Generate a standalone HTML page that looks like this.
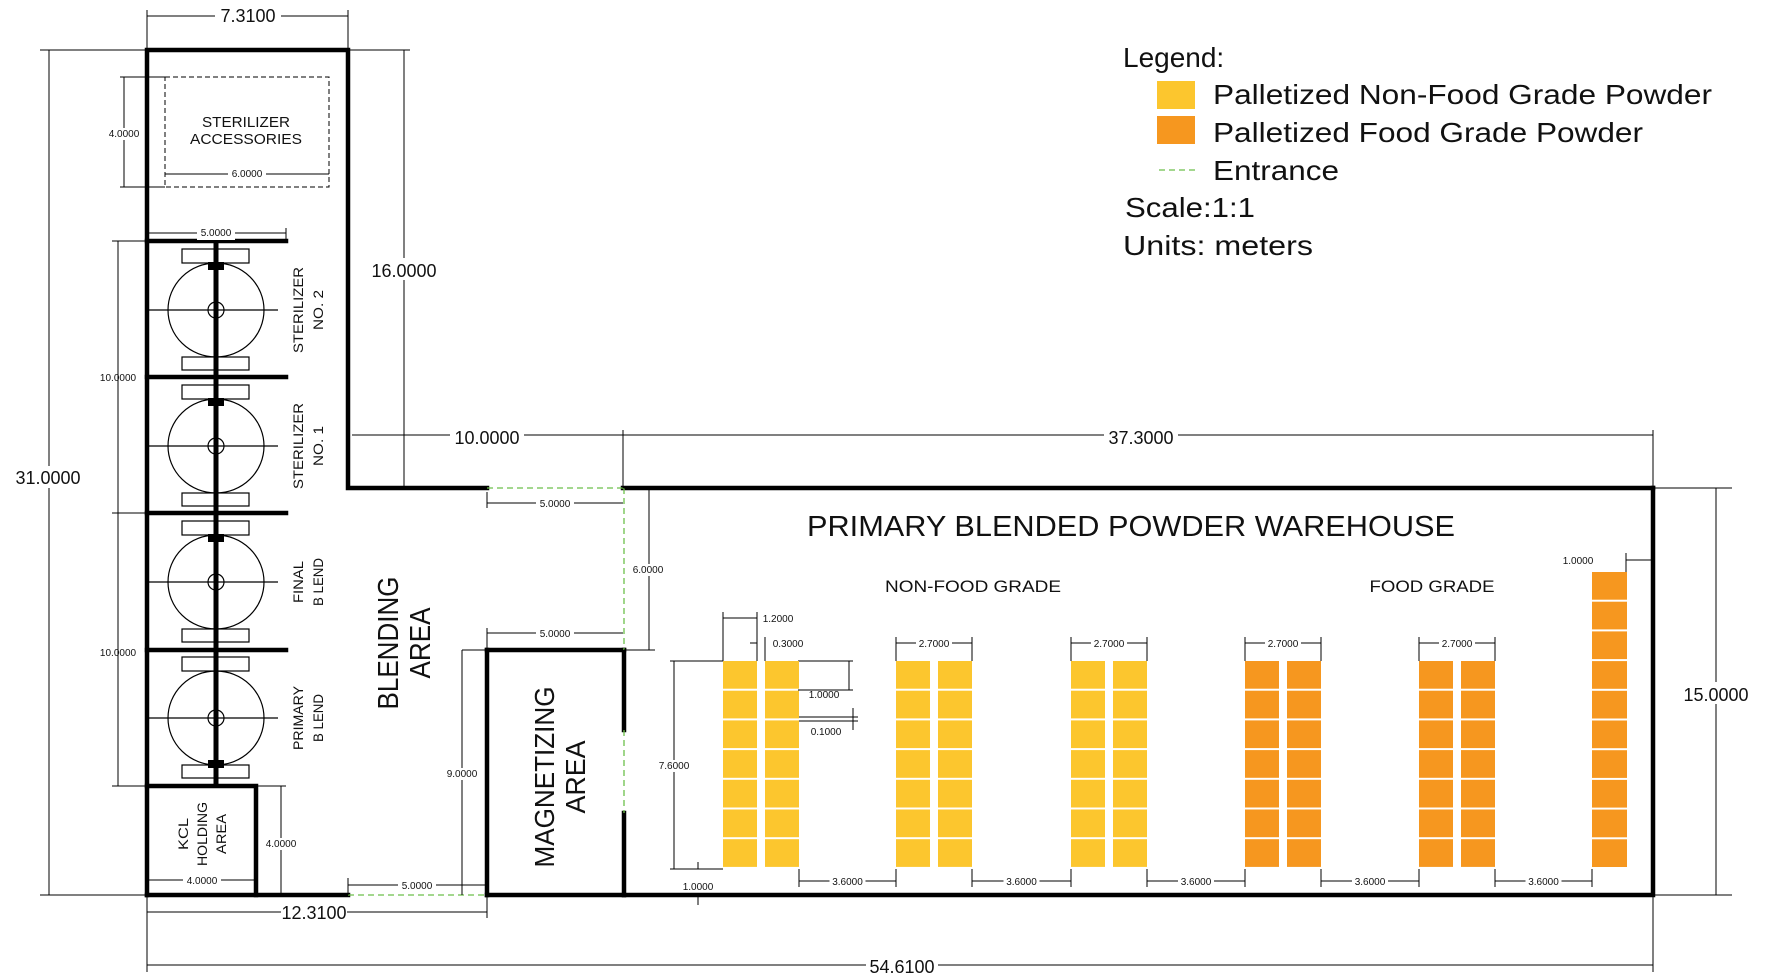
<!DOCTYPE html>
<html><head><meta charset="utf-8"><style>
html,body{margin:0;padding:0;background:#fff}
svg{display:block}
text{font-family:"Liberation Sans",Arial,sans-serif;fill:#111}
.d{font-size:10px}
.m{font-size:18px}
</style></head><body>
<svg width="1766" height="973" viewBox="0 0 1766 973" xmlns="http://www.w3.org/2000/svg">
<g stroke="#000" fill="none">
<!-- walls -->
<g stroke-width="4.5" stroke-linecap="square">
<polyline points="147,895 147,50 348,50 348,488 487,488"/>
<line x1="623" y1="488" x2="1653" y2="488"/>
<polyline points="1653,488 1653,895 624,895"/>
<line x1="487" y1="895" x2="487" y2="650"/>
<line x1="487" y1="650" x2="624" y2="650"/>
<line x1="624" y1="650" x2="624" y2="730"/>
<line x1="624" y1="813" x2="624" y2="895"/>
<line x1="487" y1="895" x2="624" y2="895"/>
<line x1="147" y1="895" x2="348" y2="895"/>
<line x1="147" y1="241" x2="286" y2="241"/>
<line x1="147" y1="377" x2="286" y2="377"/>
<line x1="147" y1="513" x2="286" y2="513"/>
<line x1="147" y1="650" x2="286" y2="650"/>
<polyline points="147,786 256,786 256,895"/>
</g>
<!-- entrances -->
<g stroke="#6cbf4a" stroke-width="1.3" stroke-dasharray="6,4">
<line x1="487" y1="488" x2="623" y2="488"/>
<line x1="624" y1="488" x2="624" y2="650"/>
<line x1="624" y1="730" x2="624" y2="813"/>
<line x1="348" y1="895" x2="487" y2="895"/>
<line x1="1159" y1="170" x2="1196" y2="170"/>
</g>
<!-- accessories dashed -->
<rect x="165" y="77" width="164" height="110" stroke-width="1" stroke-dasharray="5,3"/>
<!-- sterilizer units -->
<line x1="216" y1="241" x2="216" y2="786" stroke-width="5"/>
<g stroke-width="1.2">
<ellipse cx="216" cy="310" rx="48" ry="47"/><ellipse cx="216" cy="446" rx="48" ry="47"/>
<ellipse cx="216" cy="582" rx="48" ry="47"/><ellipse cx="216" cy="718" rx="48" ry="47"/>
<line x1="147" y1="310" x2="278" y2="310"/><line x1="147" y1="446" x2="278" y2="446"/>
<line x1="147" y1="582" x2="278" y2="582"/><line x1="147" y1="718" x2="278" y2="718"/>
<circle cx="216" cy="310" r="8"/><circle cx="216" cy="446" r="8"/><circle cx="216" cy="582" r="8"/><circle cx="216" cy="718" r="8"/>
<rect x="182" y="249" width="67" height="14"/><rect x="182" y="357" width="67" height="13"/>
<rect x="182" y="385" width="67" height="14"/><rect x="182" y="493" width="67" height="13"/>
<rect x="182" y="521" width="67" height="14"/><rect x="182" y="629" width="67" height="13"/>
<rect x="182" y="657" width="67" height="14"/><rect x="182" y="765" width="67" height="13"/>
</g>
<g fill="#000" stroke="none">
<rect x="208" y="262" width="16" height="8"/><rect x="208" y="398" width="16" height="8"/><rect x="208" y="534" width="16" height="8"/><rect x="208" y="760" width="16" height="8"/>
</g>
<!-- dimension lines -->
<g stroke-width="1">
<line x1="147" y1="16" x2="348" y2="16"/><line x1="147" y1="10" x2="147" y2="48"/><line x1="348" y1="10" x2="348" y2="48"/>
<line x1="40" y1="50" x2="147" y2="50"/><line x1="40" y1="895" x2="147" y2="895"/><line x1="49" y1="50" x2="49" y2="895"/>
<line x1="348" y1="50" x2="410" y2="50"/><line x1="404" y1="50" x2="404" y2="488"/>
<line x1="120" y1="77" x2="165" y2="77"/><line x1="120" y1="187" x2="165" y2="187"/><line x1="124" y1="77" x2="124" y2="187"/>
<line x1="165" y1="174" x2="329" y2="174"/>
<line x1="147" y1="233" x2="286" y2="233"/><line x1="286" y1="228" x2="286" y2="240"/>
<line x1="112" y1="241" x2="147" y2="241"/><line x1="112" y1="513" x2="147" y2="513"/><line x1="112" y1="786" x2="147" y2="786"/>
<line x1="118" y1="241" x2="118" y2="786"/>
<line x1="147" y1="880" x2="256" y2="880"/>
<line x1="256" y1="786" x2="286" y2="786"/><line x1="281" y1="786" x2="281" y2="895"/>
<line x1="352" y1="435" x2="1653" y2="435"/><line x1="623" y1="430" x2="623" y2="488"/><line x1="1653" y1="430" x2="1653" y2="488"/>
<line x1="487" y1="503" x2="623" y2="503"/><line x1="487" y1="492" x2="487" y2="508"/>
<line x1="487" y1="633" x2="623" y2="633"/><line x1="487" y1="628" x2="487" y2="648"/>
<line x1="624" y1="488" x2="655" y2="488"/><line x1="624" y1="650" x2="655" y2="650"/><line x1="649" y1="488" x2="649" y2="650"/>
<line x1="462" y1="650" x2="487" y2="650"/><line x1="462" y1="650" x2="462" y2="895"/>
<line x1="348" y1="885" x2="487" y2="885"/><line x1="348" y1="878" x2="348" y2="895"/>
<line x1="147" y1="912" x2="487" y2="912"/><line x1="147" y1="895" x2="147" y2="972"/><line x1="487" y1="895" x2="487" y2="918"/>
<line x1="147" y1="965" x2="1653" y2="965"/><line x1="1653" y1="895" x2="1653" y2="972"/>
<line x1="1653" y1="488" x2="1732" y2="488"/><line x1="1653" y1="895" x2="1732" y2="895"/><line x1="1716" y1="488" x2="1716" y2="895"/>
<!-- pallet dims -->
<line x1="723" y1="618" x2="757" y2="618"/><line x1="723" y1="612" x2="723" y2="661"/><line x1="757" y1="612" x2="757" y2="661"/>
<line x1="750" y1="643" x2="757" y2="643"/><line x1="765" y1="637" x2="765" y2="661"/>
<line x1="670" y1="661" x2="723" y2="661"/><line x1="670" y1="869" x2="723" y2="869"/><line x1="674" y1="661" x2="674" y2="869"/>
<line x1="698" y1="862" x2="698" y2="869"/><line x1="698" y1="895" x2="698" y2="905"/>
<line x1="798" y1="661" x2="853" y2="661"/><line x1="798" y1="690" x2="853" y2="690"/><line x1="849" y1="661" x2="849" y2="690"/>
<line x1="798" y1="717" x2="858" y2="717"/><line x1="798" y1="721" x2="858" y2="721"/><line x1="853" y1="708" x2="853" y2="730"/>
<line x1="1626" y1="560" x2="1653" y2="560"/><line x1="1626" y1="553" x2="1626" y2="572"/>
</g>
</g>
<g stroke="#000" stroke-width="1" fill="none" id="pdims"></g>
<!-- pallets -->
<g id="pal"></g>
<!-- legend -->
<rect x="1157" y="81" width="38" height="28" fill="#FCC62E"/>
<rect x="1157" y="116" width="38" height="28" fill="#F6971F"/>
<text x="1123" y="67" font-size="28">Legend:</text>
<text x="1213" y="104" font-size="28" textLength="499" lengthAdjust="spacingAndGlyphs">Palletized Non-Food Grade Powder</text>
<text x="1213" y="142" font-size="28" textLength="430" lengthAdjust="spacingAndGlyphs">Palletized Food Grade Powder</text>
<text x="1213" y="180" font-size="28" textLength="126" lengthAdjust="spacingAndGlyphs">Entrance</text>
<text x="1125" y="217" font-size="28" textLength="130" lengthAdjust="spacingAndGlyphs">Scale:1:1</text>
<text x="1123" y="255" font-size="28" textLength="190" lengthAdjust="spacingAndGlyphs">Units: meters</text>
<!-- labels -->
<g text-anchor="middle">
<text x="1131" y="536" font-size="29" textLength="648" lengthAdjust="spacingAndGlyphs">PRIMARY BLENDED POWDER WAREHOUSE</text>
<text x="973" y="592" font-size="17" textLength="176" lengthAdjust="spacingAndGlyphs">NON-FOOD GRADE</text>
<text x="1432" y="592" font-size="17" textLength="125" lengthAdjust="spacingAndGlyphs">FOOD GRADE</text>
<text x="246" y="127" font-size="15" textLength="88" lengthAdjust="spacingAndGlyphs">STERILIZER</text>
<text x="246" y="144" font-size="15" textLength="112" lengthAdjust="spacingAndGlyphs">ACCESSORIES</text>
<g font-size="14">
<text transform="translate(303,310) rotate(-90)" textLength="86" lengthAdjust="spacingAndGlyphs">STERILIZER</text>
<text transform="translate(323,310) rotate(-90)" textLength="40" lengthAdjust="spacingAndGlyphs">NO. 2</text>
<text transform="translate(303,446) rotate(-90)" textLength="86" lengthAdjust="spacingAndGlyphs">STERILIZER</text>
<text transform="translate(323,446) rotate(-90)" textLength="40" lengthAdjust="spacingAndGlyphs">NO. 1</text>
<text transform="translate(303,582) rotate(-90)" textLength="42" lengthAdjust="spacingAndGlyphs">FINAL</text>
<text transform="translate(323,582) rotate(-90)" textLength="48" lengthAdjust="spacingAndGlyphs">B LEND</text>
<text transform="translate(303,718) rotate(-90)" textLength="64" lengthAdjust="spacingAndGlyphs">PRIMARY</text>
<text transform="translate(323,718) rotate(-90)" textLength="48" lengthAdjust="spacingAndGlyphs">B LEND</text>
<text transform="translate(188,834) rotate(-90)" textLength="32" lengthAdjust="spacingAndGlyphs">KCL</text>
<text transform="translate(207,834) rotate(-90)" textLength="64" lengthAdjust="spacingAndGlyphs">HOLDING</text>
<text transform="translate(226,834) rotate(-90)" textLength="40" lengthAdjust="spacingAndGlyphs">AREA</text>
</g>
<text transform="translate(398,643) rotate(-90)" font-size="29" textLength="133" lengthAdjust="spacingAndGlyphs">BLENDING</text>
<text transform="translate(430,643) rotate(-90)" font-size="29" textLength="71" lengthAdjust="spacingAndGlyphs">AREA</text>
<text transform="translate(554,777) rotate(-90)" font-size="28" textLength="181" lengthAdjust="spacingAndGlyphs">MAGNETIZING</text>
<text transform="translate(585,777) rotate(-90)" font-size="28" textLength="73" lengthAdjust="spacingAndGlyphs">AREA</text>
</g>
<!-- dimension texts with white bg -->
<g text-anchor="middle">
<g fill="#fff">
<rect x="215" y="6" width="66" height="20"/><rect x="10" y="466" width="76" height="22"/><rect x="366" y="258" width="76" height="22"/>
<rect x="450" y="425" width="74" height="22"/><rect x="1104" y="425" width="74" height="22"/><rect x="281" y="901" width="66" height="22"/>
<rect x="866" y="955" width="72" height="20"/><rect x="1682" y="682" width="70" height="22"/>
</g>
<text x="248" y="22" class="m">7.3100</text>
<text x="48" y="484" class="m">31.0000</text>
<text x="404" y="277" class="m">16.0000</text>
<text x="487" y="444" class="m">10.0000</text>
<text x="1141" y="444" class="m">37.3000</text>
<text x="314" y="919" class="m">12.3100</text>
<text x="902" y="973" class="m">54.6100</text>
<text x="1716" y="701" class="m">15.0000</text>
<g class="d">
<rect x="106" y="128" width="36" height="12" fill="#fff"/><text x="124" y="137">4.0000</text>
<rect x="228" y="168" width="38" height="12" fill="#fff"/><text x="247" y="177">6.0000</text>
<rect x="197" y="228" width="38" height="12" fill="#fff"/><text x="216" y="236">5.0000</text>
<text x="118" y="381">10.0000</text><text x="118" y="656">10.0000</text>
<rect x="183" y="875" width="38" height="12" fill="#fff"/><text x="202" y="884">4.0000</text>
<rect x="263" y="838" width="36" height="12" fill="#fff"/><text x="281" y="847">4.0000</text>
<rect x="536" y="498" width="38" height="12" fill="#fff"/><text x="555" y="507">5.0000</text>
<rect x="536" y="628" width="38" height="12" fill="#fff"/><text x="555" y="637">5.0000</text>
<rect x="630" y="564" width="36" height="12" fill="#fff"/><text x="648" y="573">6.0000</text>
<rect x="444" y="768" width="36" height="12" fill="#fff"/><text x="462" y="777">9.0000</text>
<rect x="398" y="880" width="38" height="12" fill="#fff"/><text x="417" y="889">5.0000</text>
<rect x="656" y="760" width="36" height="12" fill="#fff"/><text x="674" y="769">7.6000</text>
<text x="698" y="890">1.0000</text>
<text x="778" y="622">1.2000</text>
<text x="788" y="647">0.3000</text>
<text x="824" y="698">1.0000</text>
<text x="826" y="735">0.1000</text>
<text x="1578" y="564">1.0000</text>
</g>
</g>
<script>
var g=document.getElementById('pal'),d=document.getElementById('pdims'),ns='http://www.w3.org/2000/svg';
function r(x,y,w,h,c){var e=document.createElementNS(ns,'rect');e.setAttribute('x',x);e.setAttribute('y',y);e.setAttribute('width',w);e.setAttribute('height',h);e.setAttribute('fill',c);g.appendChild(e);}
function l(a,b,c2,e2){var e=document.createElementNS(ns,'line');e.setAttribute('x1',a);e.setAttribute('y1',b);e.setAttribute('x2',c2);e.setAttribute('y2',e2);d.appendChild(e);}
function t(x,y,s){var e=document.createElementNS(ns,'text');e.setAttribute('x',x);e.setAttribute('y',y);e.setAttribute('font-size','10');e.setAttribute('text-anchor','middle');e.setAttribute('stroke','none');e.setAttribute('fill','#111');e.textContent=s;var bg=document.createElementNS(ns,'rect');bg.setAttribute('x',x-18);bg.setAttribute('y',y-9);bg.setAttribute('width',36);bg.setAttribute('height',12);bg.setAttribute('fill','#fff');bg.setAttribute('stroke','none');d.appendChild(bg);d.appendChild(e);}
var gx=[723,896,1071,1245,1419];
for(var i=0;i<5;i++){var c=i<3?'#FCC62E':'#F6971F';
 for(var k=0;k<2;k++)for(var j=0;j<7;j++)r(gx[i]+k*42,661+j*29.7,34,27.7,c);
 if(i>0){l(gx[i],637,gx[i],661);l(gx[i]+76,637,gx[i]+76,661);l(gx[i],643,gx[i]+76,643);t(gx[i]+38,647,'2.7000');}
 l(gx[i]+76,869,gx[i]+76,887);var nx=i<4?gx[i+1]:1592;l(nx,869,nx,887);l(gx[i]+76,881,nx,881);t((gx[i]+76+nx)/2,885,'3.6000');
}
for(var j=0;j<10;j++)r(1592,572+j*29.7,35,27.7,'#F6971F');
</script>
</svg>
</body></html>
